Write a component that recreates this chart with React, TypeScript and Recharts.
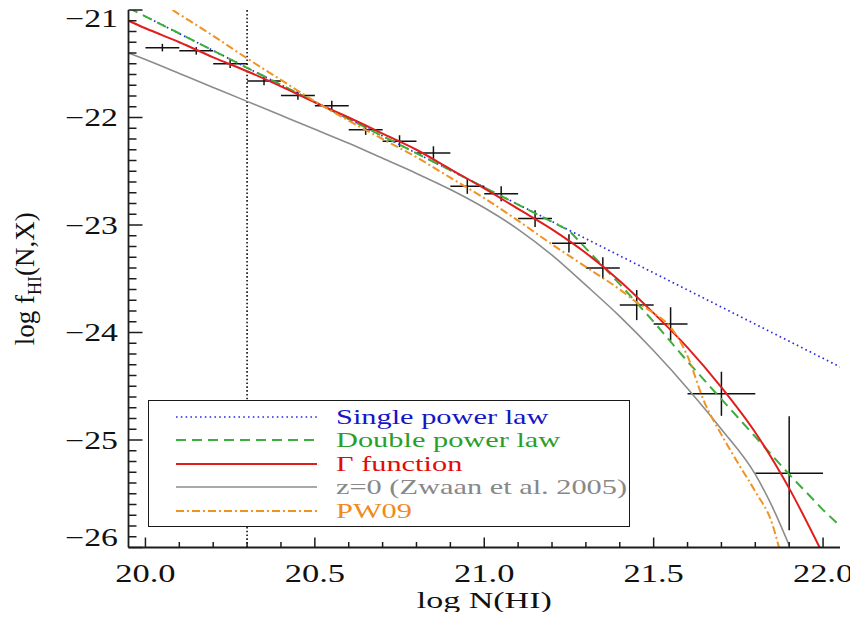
import React from 'react';
import { ComposedChart, Line, Scatter, ErrorBar, XAxis, YAxis, ReferenceLine, Legend } from 'recharts';

// ---------- data ----------
const binCenters = [20.05, 20.15, 20.25, 20.35, 20.45, 20.55, 20.65, 20.75, 20.85, 20.95, 21.05, 21.15, 21.25, 21.35, 21.45, 21.55, 21.7, 21.9];
const binLogF = [-21.35, -21.38, -21.5, -21.66, -21.795, -21.89, -22.115, -22.22, -22.33, -22.64, -22.71, -22.94, -23.17, -23.4, -23.745, -23.92, -24.57, -25.31];
const binHalfWidth = [0.05, 0.05, 0.05, 0.05, 0.05, 0.05, 0.05, 0.05, 0.05, 0.05, 0.05, 0.05, 0.05, 0.05, 0.05, 0.05, 0.1, 0.1];
const binErr = [0.035, 0.035, 0.04, 0.04, 0.04, 0.045, 0.047, 0.055, 0.062, 0.07, 0.07, 0.078, 0.085, 0.1, 0.14, 0.155, 0.205, 0.53];

const singleX = [20.0, 21.0, 22.05];
const singleY = [-21.06, -22.65, -24.32];

const doubleX = [19.95, 20.5, 21.0, 21.25, 21.4, 21.5, 21.6, 21.7, 21.8, 21.9, 22.0, 22.05];
const doubleY = [-20.98, -21.855, -22.65, -23.05, -23.55, -23.9, -24.27, -24.62, -24.97, -25.32, -25.65, -25.8];

const gammaX = [19.95, 20.0, 20.1, 20.2, 20.3, 20.4, 20.5, 20.6, 20.7, 20.8, 20.9, 21.0, 21.1, 21.2, 21.3, 21.4, 21.5, 21.6, 21.7, 21.8, 21.9, 21.99];
const gammaY = [-21.1, -21.17, -21.3, -21.44, -21.57, -21.71, -21.86, -22.0, -22.15, -22.3, -22.48, -22.66, -22.85, -23.04, -23.26, -23.52, -23.82, -24.14, -24.51, -24.93, -25.45, -26.0];

const zwaanX = [19.95, 20.0, 20.1, 20.2, 20.3, 20.4, 20.5, 20.6, 20.7, 20.8, 20.9, 21.0, 21.1, 21.2, 21.3, 21.4, 21.5, 21.6, 21.7, 21.8, 21.85, 21.9];
const zwaanY = [-21.4, -21.46, -21.59, -21.72, -21.85, -21.98, -22.11, -22.24, -22.38, -22.52, -22.67, -22.84, -23.04, -23.28, -23.56, -23.85, -24.17, -24.52, -24.9, -25.32, -25.62, -25.98];

const pw09X = [20.08, 20.1, 20.2, 20.3, 20.4, 20.5, 20.6, 20.7, 20.8, 20.9, 21.0, 21.1, 21.2, 21.3, 21.4, 21.45, 21.5, 21.55, 21.6, 21.65, 21.7, 21.75, 21.8, 21.85, 21.87];
const pw09Y = [-21.0, -21.04, -21.24, -21.45, -21.65, -21.85, -22.03, -22.2, -22.37, -22.56, -22.75, -22.96, -23.18, -23.39, -23.6, -23.72, -23.82, -23.95, -24.22, -24.65, -24.95, -25.22, -25.48, -25.78, -26.0];

const xMajorTicks = [20.0, 20.5, 21.0, 21.5, 22.0];
const xTickLabels = ['20.0', '20.5', '21.0', '21.5', '22.0'];
const yMajorTicks = [-26, -25, -24, -23, -22, -21];
const yTickLabels = ['\u221226', '\u221225', '\u221224', '\u221223', '\u221222', '\u221221'];

const seriesNames = ['Single power law', 'Double power law', '\u0393 function', 'z=0 (Zwaan et al. 2005)', 'PW09'];

// ---------- build tables ----------
const zip = (xs: number[], ys: number[]) => xs.map((x, i) => ({ x, y: ys[i] }));
const bins = binCenters.map((x, i) => ({ x, y: binLogF[i], ex: binHalfWidth[i], ey: binErr[i] }));

const xMinorTicks = Array.from({ length: 21 }, (_, i) => Math.round((20 + i * 0.1) * 10) / 10);
const yMinorTicks = Array.from({ length: 51 }, (_, i) => Math.round((-26 + i * 0.1) * 10) / 10);

const FONT = '"Liberation Serif", "Times New Roman", serif';
const SX = 1.38;
const AXIS = '#1c1c1c';

const styles: Record<string, { stroke: string; width: number; dash?: string; text: string; type: any; data: any[] }> = {
  [seriesNames[0]]: { stroke: '#2b2be6', width: 1.7, dash: '1.6 3.2', text: '#1515c8', type: 'linear', data: zip(singleX, singleY) },
  [seriesNames[1]]: { stroke: '#3cae3c', width: 2, dash: '10 6', text: '#2a9e2a', type: 'linear', data: zip(doubleX, doubleY) },
  [seriesNames[2]]: { stroke: '#e21d1d', width: 2, text: '#e00c0c', type: 'monotone', data: zip(gammaX, gammaY) },
  [seriesNames[3]]: { stroke: '#8c8c8c', width: 1.6, text: '#888888', type: 'monotone', data: zip(zwaanX, zwaanY) },
  [seriesNames[4]]: { stroke: '#f29222', width: 2, dash: '8 3 2 3', text: '#f08a1c', type: 'monotone', data: zip(pw09X, pw09Y) },
};

const labelFor = (v: number, majors: number[], labels: string[]) => {
  const i = majors.findIndex((m) => Math.abs(m - v) < 1e-6);
  return i >= 0 ? labels[i] : null;
};

const BottomTick = (props: any) => {
  const { x, y, payload } = props;
  const lab = labelFor(payload.value, xMajorTicks, xTickLabels);
  const len = lab ? 10 : 5.5;
  return (
    <g>
      <line x1={x} y1={y} x2={x} y2={y - len} stroke={AXIS} strokeWidth={1.5} />
      {lab && (
        <text transform={`translate(${x},${y + 34}) scale(${SX},1)`} textAnchor="middle" fontFamily={FONT} fontSize={25} fill="#111">
          {lab}
        </text>
      )}
    </g>
  );
};

const TopTick = (props: any) => {
  const { x, y, payload } = props;
  const lab = labelFor(payload.value, xMajorTicks, xTickLabels);
  const len = lab ? 10 : 5.5;
  return <line x1={x} y1={y} x2={x} y2={y + len} stroke={AXIS} strokeWidth={1.5} />;
};

const LeftTick = (props: any) => {
  const { x, y, payload } = props;
  const lab = labelFor(payload.value, yMajorTicks, yTickLabels);
  const len = lab ? 14 : 8;
  let shift = 0;
  if (payload.value === -21) shift = 8;
  if (payload.value === -26) shift = -10;
  return (
    <g>
      <line x1={x} y1={y} x2={x + len} y2={y} stroke={AXIS} strokeWidth={1.5} />
      {lab && (
        <text transform={`translate(${x - 10.5},${y + shift + 8.5}) scale(${SX},1)`} textAnchor="end" fontFamily={FONT} fontSize={24.5} fill="#111">
          {lab}
        </text>
      )}
    </g>
  );
};

const RightTick = (props: any) => {
  const { x, y, payload } = props;
  const lab = labelFor(payload.value, yMajorTicks, yTickLabels);
  const len = lab ? 14 : 8;
  return <line x1={x} y1={y} x2={x - len} y2={y} stroke={AXIS} strokeWidth={1.5} />;
};

const XTitle = (props: any) => {
  const vb = props.viewBox || { x: 128.5, y: 547.5, width: 711.5 };
  const cx = vb.x + vb.width / 2;
  return (
    <text transform={`translate(${cx},${vb.y + 60.5}) scale(1.48,1)`} textAnchor="middle" fontFamily={FONT} fontSize={23} fill="#111">
      log N(HI)
    </text>
  );
};

const YTitle = (props: any) => {
  const vb = props.viewBox || { y: 10, height: 537.5 };
  const cy = vb.y + vb.height / 2;
  return (
    <text transform={`translate(33.5,${cy}) rotate(-90)`} textAnchor="middle" fontFamily={FONT} fontSize={27} fill="#111">
      log f
      <tspan fontSize={18} dy={7}>HI</tspan>
      <tspan dy={-7}>(N,X)</tspan>
    </text>
  );
};

const LegendBox = (props: any) => {
  const shown = new Set((props.payload || []).map((p: any) => p.value));
  const names = seriesNames.filter((n) => shown.size === 0 || shown.has(n));
  return (
    <div
      style={{
        position: 'relative',
        width: 482,
        height: 127,
        border: '1.6px solid #1a1a1a',
        background: '#fff',
        boxSizing: 'border-box',
      }}
    >
      {names.map((name, i) => {
        const s = styles[name];
        const cy = 15.5 + i * 23.5;
        return (
          <div key={name} style={{ position: 'absolute', left: 0, top: cy - 12, height: 24, width: '100%' }}>
            <svg style={{ position: 'absolute', left: 27, top: 0 }} width={141} height={24}>
              <line x1={0} y1={12} x2={141} y2={12} stroke={s.stroke} strokeWidth={s.width} strokeDasharray={s.dash} />
            </svg>
            <span
              style={{
                position: 'absolute',
                left: 187,
                top: 0,
                lineHeight: '24px',
                fontSize: 22,
                fontFamily: FONT,
                color: s.text,
                transform: `scaleX(${SX})`,
                transformOrigin: 'left center',
                whiteSpace: 'nowrap',
              }}
            >
              {name}
            </span>
          </div>
        );
      })}
    </div>
  );
};

export default function App() {
  return (
    <div style={{ width: 858, height: 612, margin: '-8px 0 0 -8px', background: '#fff' }}>
      <ComposedChart width={858} height={620} margin={{ top: 10, right: 18, left: 8, bottom: 0 }}>
        <XAxis
          xAxisId={0}
          type="number"
          dataKey="x"
          domain={[19.95, 22.05]}
          allowDataOverflow
          ticks={xMinorTicks}
          interval={0}
          tickSize={0}
          tickMargin={0}
          tickLine={false}
          height={72.5}
          axisLine={{ stroke: AXIS, strokeWidth: 1.8 }}
          tick={<BottomTick />}
          label={<XTitle />}
        />
        <XAxis
          xAxisId="top"
          orientation="top"
          type="number"
          dataKey="x"
          domain={[19.95, 22.05]}
          allowDataOverflow
          ticks={xMinorTicks}
          interval={0}
          tickSize={0}
          tickMargin={0}
          tickLine={false}
          height={0}
          axisLine={{ stroke: AXIS, strokeWidth: 1.8 }}
          tick={<TopTick />}
        />
        <YAxis
          yAxisId={0}
          type="number"
          domain={[-26, -21]}
          allowDataOverflow
          ticks={yMinorTicks}
          interval={0}
          tickSize={0}
          tickMargin={0}
          tickLine={false}
          width={120.5}
          axisLine={{ stroke: AXIS, strokeWidth: 1.8 }}
          tick={<LeftTick />}
          label={<YTitle />}
        />
        <YAxis
          yAxisId="right"
          orientation="right"
          type="number"
          domain={[-26, -21]}
          allowDataOverflow
          ticks={yMinorTicks}
          interval={0}
          tickSize={0}
          tickMargin={0}
          tickLine={false}
          width={0}
          axisLine={{ stroke: AXIS, strokeWidth: 1.8 }}
          tick={<RightTick />}
        />
        <ReferenceLine x={20.3} stroke="#111" strokeWidth={1.6} strokeDasharray="1.6 2.2" />
        <Scatter data={bins} dataKey="y" isAnimationActive={false} legendType="none" shape={() => <g />}>
          <ErrorBar dataKey="ey" direction="y" width={0} stroke="#111" strokeWidth={1.5} isAnimationActive={false} />
          <ErrorBar dataKey="ex" direction="x" width={0} stroke="#111" strokeWidth={1.5} isAnimationActive={false} />
        </Scatter>
        {seriesNames.map((name) => {
          const s = styles[name];
          return (
            <Line
              key={name}
              name={name}
              data={s.data}
              dataKey="y"
              type={s.type}
              stroke={s.stroke}
              strokeWidth={s.width}
              strokeDasharray={s.dash}
              dot={false}
              activeDot={false}
              isAnimationActive={false}
            />
          );
        })}
        <Legend
          layout="vertical"
          align="center"
          verticalAlign="middle"
          content={<LegendBox />}
          wrapperStyle={{ position: 'absolute', left: 148.3, top: 400, width: 482, height: 127 }}
        />
      </ComposedChart>
    </div>
  );
}
